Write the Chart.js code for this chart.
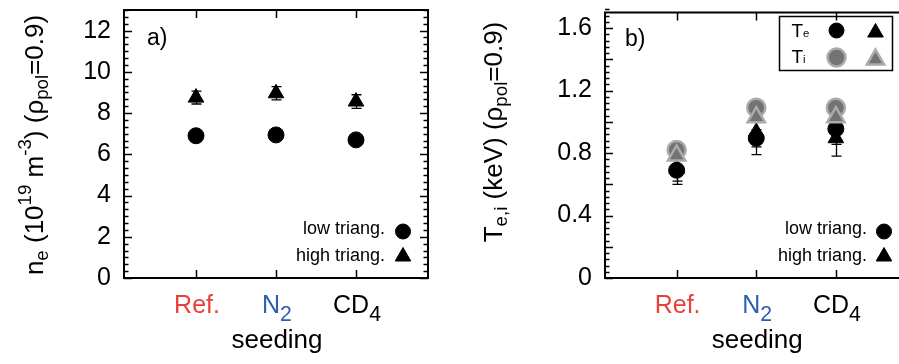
<!DOCTYPE html>
<html>
<head>
<meta charset="utf-8">
<script src="https://cdn.jsdelivr.net/npm/chart.js@4.4.1/dist/chart.umd.min.js"></script>
<style>
  html, body { margin: 0; padding: 0; background: #fff; }
  body { width: 899px; height: 364px; overflow: hidden; position: relative; }
  canvas.panel { position: absolute; top: 0; }
</style>
</head>
<body>
<canvas id="panelA" class="panel" style="left:0px" width="450" height="364"></canvas>
<canvas id="panelB" class="panel" style="left:450px" width="470" height="364"></canvas>
<script>
// categories (trailing digits are drawn as subscripts)
const categories = ['Ref.', 'N2', 'CD4'];
const categoryPos = [1, 2, 3];
const categoryColors = ['#e8403b', '#2b5cb8', '#000000'];

// panel a) electron density at rho_pol = 0.9 (1e19 m^-3)
const neLowTri = [6.9, 6.94, 6.7];
const neHighTri = [8.75, 8.96, 8.56];
const neHighTriErr = [0.31, 0.32, 0.33];
const neTicks = [0, 2, 4, 6, 8, 10, 12];

// panel b) temperatures at rho_pol = 0.9 (keV)
const teLowTri = [0.69, 0.895, 0.955];
const teLowTriErr = [0.07, 0.055, 0.1];
const teHighTri = [0.70, 0.935, 0.895];
const teHighTriErr = [0.10, 0.145, 0.115];
const tiLowTri = [0.82, 1.09, 1.09];
const tiHighTri = [0.785, 1.03, 1.03];
const teTicks = [0, 0.4, 0.8, 1.2, 1.6];

const FONT = "'Liberation Sans', Arial, Helvetica, sans-serif";
const BLACK = { bg: '#000000', border: '#000000', bw: 1 };
const GREY = { bg: '#737373', border: '#ababab', bw: 2.5 };

// sub/superscript roles: [size factor, baseline shift in em]
const ROLES = { n: [1, 0], sub: [0.72, 0.18], sup: [0.72, -0.45], csub: [0.85, 0.3], tiny: [0.6, 0.05] };

function richText(ctx, parts, x, y, size, align, color) {
  let total = 0;
  const items = parts.map(([t, role]) => {
    const [k, dy] = ROLES[role || 'n'];
    const font = (size * k).toFixed(1) + 'px ' + FONT;
    ctx.font = font;
    const w = ctx.measureText(t).width;
    total += w;
    return { t, font, w, dy: dy * size };
  });
  let cx = align === 'center' ? x - total / 2 : align === 'right' ? x - total : x;
  ctx.fillStyle = color || '#000';
  ctx.textAlign = 'left';
  ctx.textBaseline = 'alphabetic';
  items.forEach(it => {
    ctx.font = it.font;
    ctx.fillText(it.t, cx, y + it.dy);
    cx += it.w;
  });
}

function marker(ctx, style, x, y, r, look) {
  ctx.save();
  ctx.fillStyle = look.bg;
  ctx.strokeStyle = look.border;
  ctx.lineWidth = look.bw;
  ctx.beginPath();
  if (style === 'circle') {
    ctx.arc(x, y, r, 0, Math.PI * 2);
  } else {
    let a = 0;
    ctx.moveTo(x + Math.sin(a) * r, y - Math.cos(a) * r);
    a += Math.PI * 2 / 3;
    ctx.lineTo(x + Math.sin(a) * r, y - Math.cos(a) * r);
    a += Math.PI * 2 / 3;
    ctx.lineTo(x + Math.sin(a) * r, y - Math.cos(a) * r);
    ctx.closePath();
  }
  ctx.fill();
  if (look.bw > 0) ctx.stroke();
  ctx.restore();
}

function splitLabel(name) {
  const m = name.match(/^(.*?)(\d*)$/);
  return m[2] ? [[m[1]], [m[2], 'csub']] : [[m[1]]];
}

function series(values, style, look, radius, order, errs) {
  return {
    data: values.map((v, i) => ({ x: categoryPos[i], y: v })),
    pointStyle: style,
    pointRadius: radius,
    backgroundColor: look.bg,
    borderColor: look.border,
    borderWidth: look.bw,
    showLine: false,
    order: order,
    errorBars: errs
  };
}

function panelPlugin(cfg) {
  return {
    id: 'gnuPanel',
    afterDatasetDraw(chart, args) {
      const ds = chart.data.datasets[args.index];
      if (!ds.errorBars) return;
      const ctx = chart.ctx, xs = chart.scales.x, ys = chart.scales.y;
      ctx.save();
      ctx.strokeStyle = '#000';
      ctx.lineWidth = 1.3;
      ds.data.forEach((p, i) => {
        const e = ds.errorBars[i];
        const x = Math.round(xs.getPixelForValue(p.x)) + 0.5;
        const lo = ys.getPixelForValue(p.y - e), hi = ys.getPixelForValue(p.y + e);
        ctx.beginPath();
        ctx.moveTo(x, lo); ctx.lineTo(x, hi);
        ctx.moveTo(x - 5, lo); ctx.lineTo(x + 5, lo);
        ctx.moveTo(x - 5, hi); ctx.lineTo(x + 5, hi);
        ctx.stroke();
      });
      ctx.restore();
    },
    afterDraw(chart) {
      const ctx = chart.ctx, a = chart.chartArea, xs = chart.scales.x, ys = chart.scales.y;
      ctx.save();
      // frame
      ctx.strokeStyle = '#000';
      ctx.lineWidth = 2;
      ctx.strokeRect(a.left, a.top, a.right - a.left, a.bottom - a.top);
      // y ticks, mirrored on both sides
      ctx.lineWidth = 1.5;
      ctx.beginPath();
      const n = Math.round((ys.max - ys.min) / cfg.minorStep);
      for (let i = 0; i <= n; i++) {
        const v = ys.min + i * cfg.minorStep;
        const q = v / cfg.longStep;
        const len = Math.abs(q - Math.round(q)) < 1e-6 ? 8 : 4.5;
        const y = Math.round(ys.getPixelForValue(v)) + 0.5;
        ctx.moveTo(a.left, y); ctx.lineTo(a.left + len, y);
        ctx.moveTo(a.right, y); ctx.lineTo(a.right - len, y);
      }
      // x ticks at the categories, bottom and top
      categoryPos.forEach(c => {
        const x = Math.round(xs.getPixelForValue(c)) + 0.5;
        ctx.moveTo(x, a.bottom); ctx.lineTo(x, a.bottom - 8);
        ctx.moveTo(x, a.top); ctx.lineTo(x, a.top + 8);
      });
      ctx.stroke();

      // category labels and axis title
      categories.forEach((c, i) => {
        richText(ctx, splitLabel(c), xs.getPixelForValue(categoryPos[i]) + 1, 313, 25, 'center', categoryColors[i]);
      });
      richText(ctx, [['seeding']], (a.left + a.right) / 2 + 1, 348, 26, 'center');

      // rotated y title
      ctx.save();
      ctx.translate(cfg.titleX, cfg.titleY);
      ctx.rotate(-Math.PI / 2);
      richText(ctx, cfg.title, 0, 0, 26, 'center');
      ctx.restore();

      // panel letter
      richText(ctx, [[cfg.letter]], cfg.letterX, cfg.letterY, 23, 'left');

      // in-plot legend, bottom right
      const lg = cfg.legend;
      richText(ctx, [['low triang.']], lg.textRight, 234, 18, 'right');
      richText(ctx, [['high triang.']], lg.textRight, 261, 18, 'right');
      marker(ctx, 'circle', lg.markerX, 231.5, 7.5, BLACK);
      marker(ctx, 'triangle', lg.markerX, 256.5, 9, BLACK);

      // species box (panel b)
      if (cfg.speciesBox) {
        const b = cfg.speciesBox;
        ctx.strokeStyle = '#000';
        ctx.lineWidth = 1.5;
        ctx.strokeRect(b.x, b.y, b.w, b.h);
        richText(ctx, [['T'], ['e', 'tiny']], b.x + 12, b.y + 20, 19, 'left');
        richText(ctx, [['T'], ['i', 'tiny']], b.x + 12, b.y + 46, 19, 'left');
        marker(ctx, 'circle', b.x + 57, b.y + 14, 7.5, BLACK);
        marker(ctx, 'triangle', b.x + 96, b.y + 16, 9, BLACK);
        marker(ctx, 'circle', b.x + 57, b.y + 41, 9, GREY);
        marker(ctx, 'triangle', b.x + 96, b.y + 43, 10, GREY);
      }
      ctx.restore();
    }
  };
}

function yScale(max, ticks, width, fmt) {
  return {
    type: 'linear', min: 0, max: max,
    grid: { display: false, drawTicks: false, tickLength: 0 },
    border: { display: false },
    afterBuildTicks: s => { s.ticks = ticks.map(v => ({ value: v })); },
    afterFit: s => { s.width = width; s.paddingTop = 0; s.paddingBottom = 0; },
    ticks: { font: { family: FONT, size: 25 }, color: '#000', padding: 13, callback: fmt }
  };
}

const xScale = { type: 'linear', min: 0.1, max: 3.9, display: false };

new Chart(document.getElementById('panelA'), {
  type: 'scatter',
  data: {
    datasets: [
      series(neHighTri, 'triangle', BLACK, 9, 2, neHighTriErr),
      series(neLowTri, 'circle', BLACK, 8, 1, null)
    ]
  },
  options: {
    responsive: false, animation: false, events: [],
    layout: { padding: { top: 9, right: 22, bottom: 86, left: 0 } },
    plugins: { legend: { display: false }, tooltip: { enabled: false } },
    scales: { x: xScale, y: yScale(13, neTicks, 124, v => String(v)) }
  },
  plugins: [panelPlugin({
    minorStep: 2 / 6, longStep: 2,
    title: [['n'], ['e', 'sub'], [' (10'], ['19', 'sup'], [' m'], ['-3', 'sup'], [') ('], ['ρ'], ['pol', 'sub'], ['=0.9)']],
    titleX: 43, titleY: 145,
    letter: 'a)', letterX: 147, letterY: 45,
    legend: { textRight: 385, markerX: 403 }
  })]
});

new Chart(document.getElementById('panelB'), {
  type: 'scatter',
  data: {
    datasets: [
      series(teHighTri, 'triangle', BLACK, 9, 4, teHighTriErr),
      series(teLowTri, 'circle', BLACK, 8, 3, teLowTriErr),
      series(tiLowTri, 'circle', GREY, 9, 2, null),
      series(tiHighTri, 'triangle', GREY, 10, 1, null)
    ]
  },
  options: {
    responsive: false, animation: false, events: [],
    layout: { padding: { top: 9, right: 11, bottom: 86, left: 0 } },
    plugins: { legend: { display: false }, tooltip: { enabled: false } },
    scales: { x: xScale, y: yScale(1.7, teTicks, 155, v => (v === 0 ? '0' : v.toFixed(1))) }
  },
  plugins: [panelPlugin({
    minorStep: 0.04, longStep: 0.2,
    title: [['T'], ['e,i', 'sub'], [' (keV) ('], ['ρ'], ['pol', 'sub'], ['=0.9)']],
    titleX: 52, titleY: 132,
    letter: 'b)', letterX: 175, letterY: 46,
    legend: { textRight: 417, markerX: 434 },
    speciesBox: { x: 329.5, y: 16.5, w: 113, h: 54 }
  })]
});
</script>
</body>
</html>
